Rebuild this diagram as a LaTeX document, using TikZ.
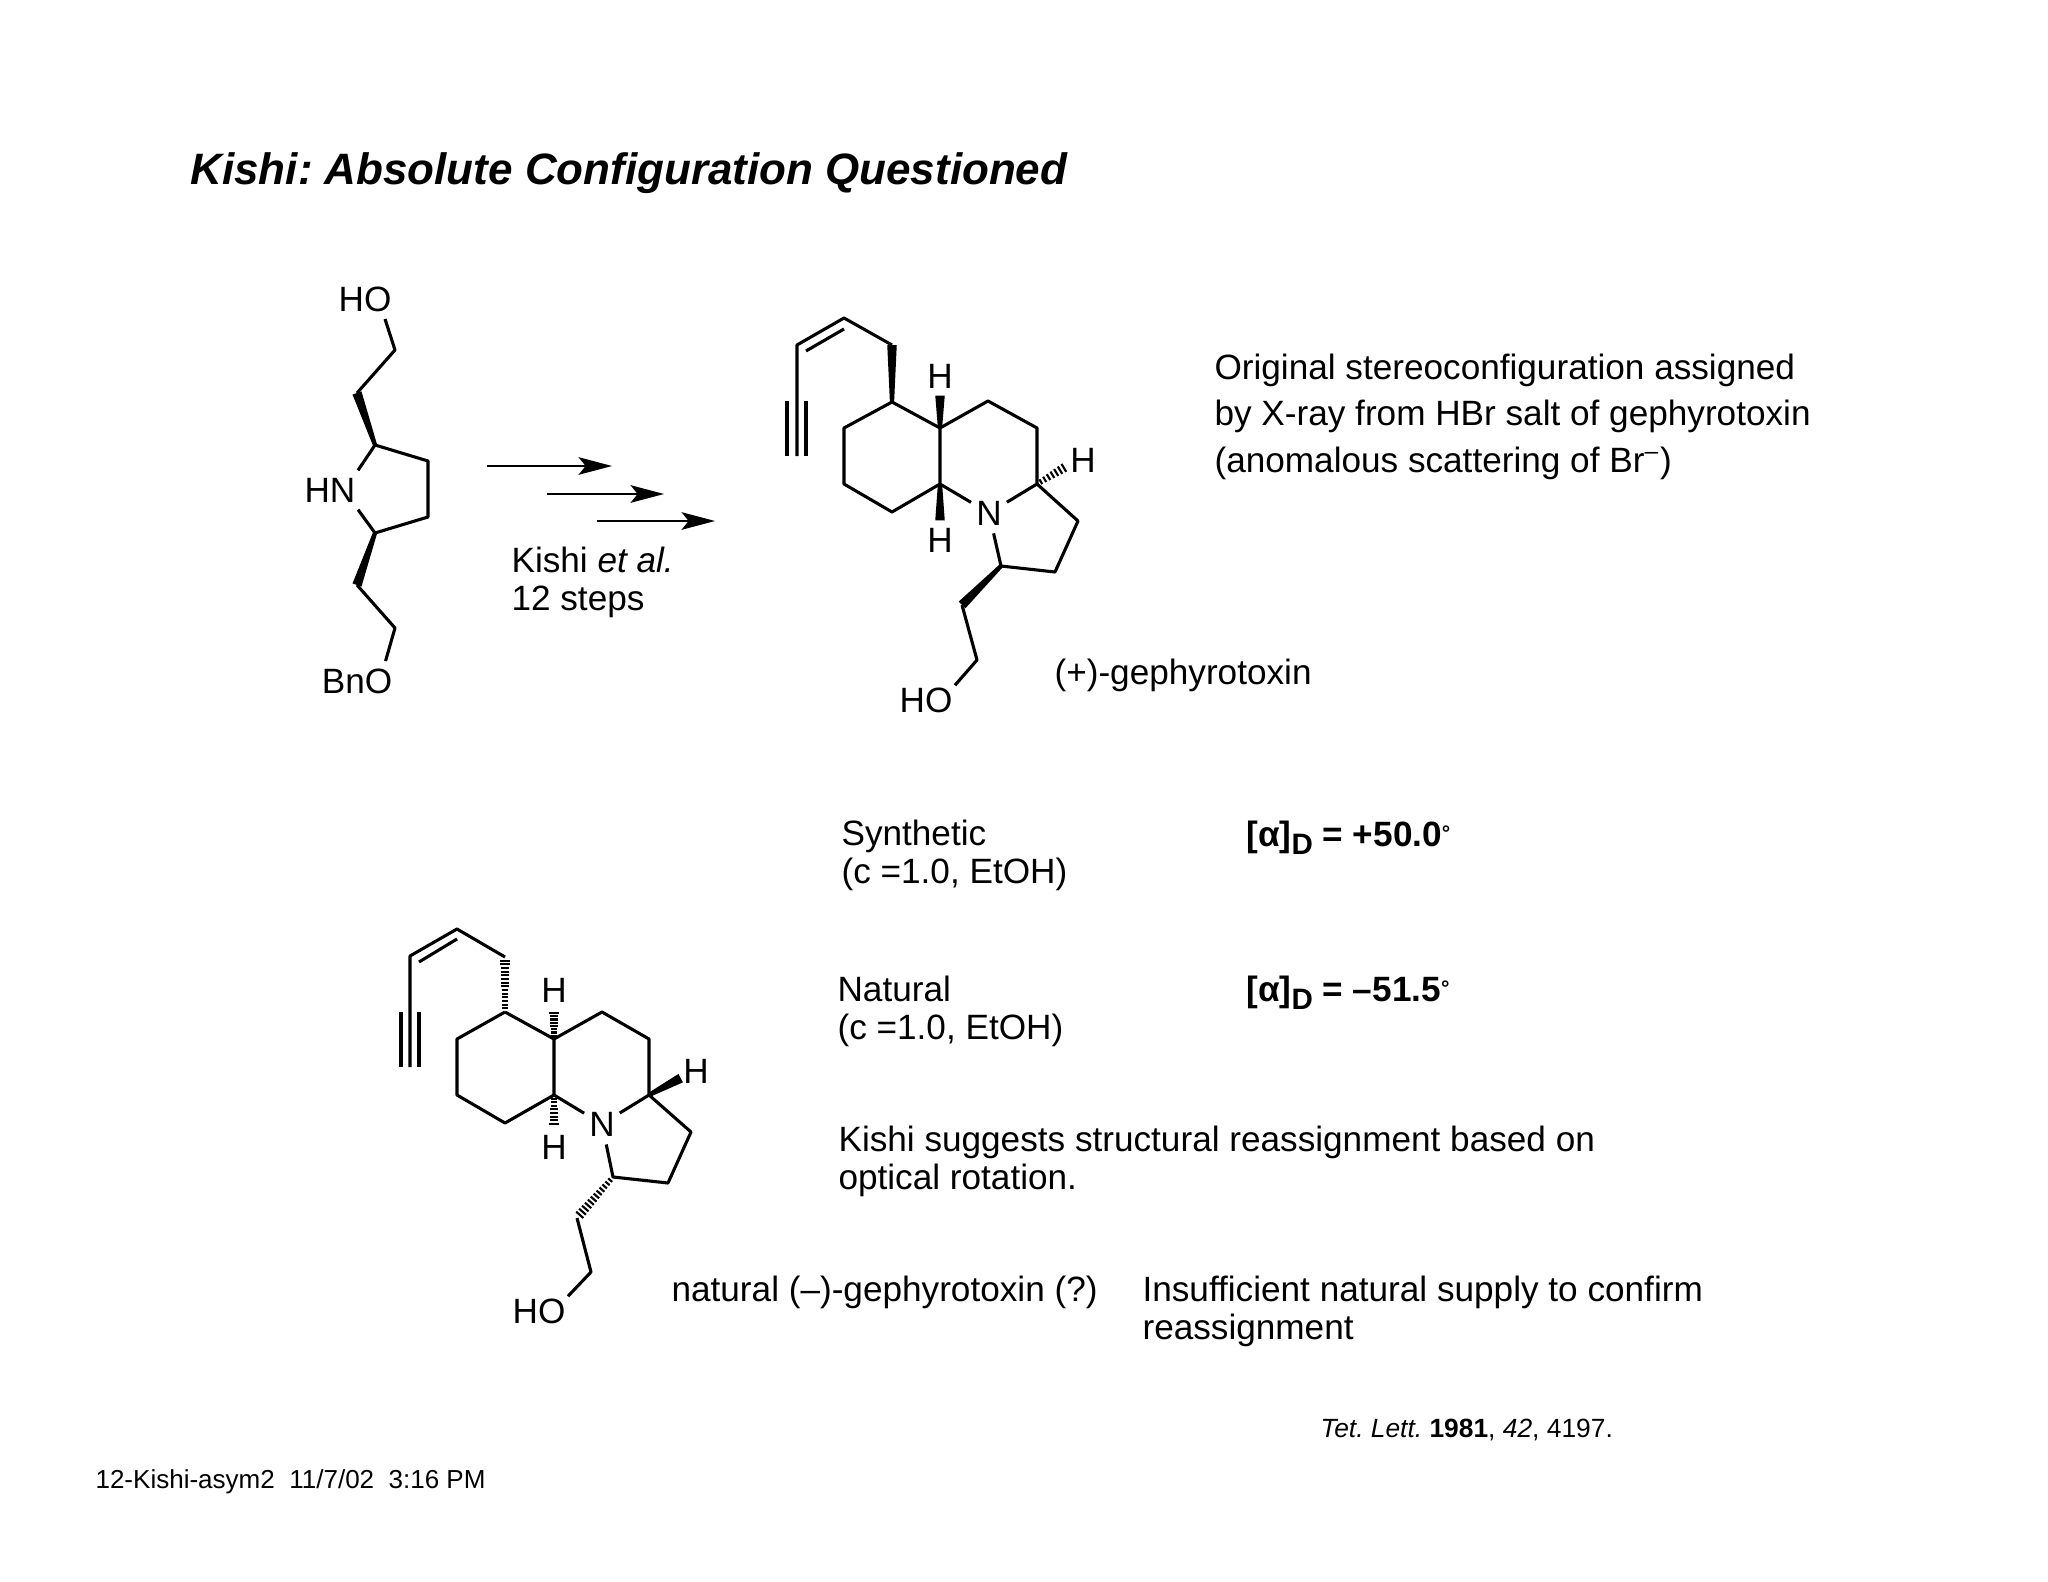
\documentclass[tikz,border=0pt]{standalone}
\usepackage{fontspec}
\setmainfont{Liberation Sans}
\usetikzlibrary{calc,arrows.meta}
\frenchspacing
\newcommand{\wedgebond}[2]{\fill ($(#1)!0.6pt!90:(#2)$) -- ($(#2)!1.35pt!-90:(#1)$) -- ($(#2)!1.35pt!90:(#1)$) -- ($(#1)!0.6pt!-90:(#2)$) -- cycle;}
\newcommand{\hashbond}[3]{\foreach \k in {1,...,#1}{
    \pgfmathsetmacro{\t}{\k/(#1+1)}
    \pgfmathsetmacro{\w}{0.7+0.7*\t}
    \draw[line width=0.6pt] ($($(#2)!\t!(#3)$)!\w pt!90:(#3)$) -- ($($(#2)!\t!(#3)$)!\w pt!-90:(#3)$);
}}
\begin{document}
\begin{tikzpicture}[x=0.01cm, y=-0.01cm, line width=0.88pt, line join=round,
    atom/.style = {inner xsep=0.3pt, inner ysep=1.7pt, font=\fontsize{10}{10}\selectfont},
    ringn/.style = {circle, inner sep=0pt, minimum size=11pt, font=\fontsize{10}{10}\selectfont},
    txt/.style = {anchor=base west, align=left, inner sep=0pt, font=\fontsize{10}{10.7}\selectfont},
    wide/.style = {txt, font=\fontsize{10}{13.1}\selectfont},
    small/.style = {anchor=base west, inner sep=0pt},
    rotation/.style = {txt, font=\fontsize{10}{10.7}\selectfont\bfseries},
    reaction/.style = {line width=0.65pt, -{Stealth[length=9.5pt, width=5pt, inset=2pt]}}]
    \useasboundingbox (0,0) rectangle (2048,1582);

    % title
    \node[small, font=\fontsize{12.5}{14}\selectfont\bfseries\itshape] (title) at (189,185) {Kishi: Absolute Configuration Questioned};

    % starting pyrrolidine
    \node[atom] (ho1) at (365,299) {HO};
    \node[atom] (hn) at (330,490) {HN};
    \node[atom] (bno) at (357,681) {BnO};
    \coordinate (a1) at (395,350);
    \coordinate (a2) at (357,393);
    \coordinate (a3) at (375,445);
    \coordinate (a4) at (428,461);
    \coordinate (a5) at (428,517);
    \coordinate (a6) at (375,533);
    \coordinate (a7) at (357,585);
    \coordinate (a8) at (395,628);
    \draw (ho1.-45) -- (a1) -- (a2);
    \wedgebond{a3}{a2}
    \draw (hn.north east) -- (a3) -- (a4) -- (a5) -- (a6) -- (hn.south east);
    \wedgebond{a6}{a7}
    \draw (a7) -- (a8) -- (bno.35);

    % arrows
    \coordinate (p1) at (487,466);
    \coordinate (p2) at (612,466);
    \coordinate (p3) at (547,494);
    \coordinate (p4) at (664,494);
    \coordinate (p5) at (597,521);
    \coordinate (p6) at (715,521);
    \draw[reaction] (p1) -- (p2);
    \draw[reaction] (p3) -- (p4);
    \draw[reaction] (p5) -- (p6);
    \node[txt] (steps) at (510,610) {Kishi \textit{et al.}\\12 steps};

    % (+)-gephyrotoxin
    \coordinate (b1) at (892,402);
    \coordinate (b2) at (940,428);
    \coordinate (b3) at (940,484);
    \coordinate (b4) at (892,512);
    \coordinate (b5) at (844,484);
    \coordinate (b6) at (844,428);
    \coordinate (b7) at (988,401);
    \coordinate (b8) at (1037,428);
    \coordinate (b9) at (1037,484);
    \coordinate (b10) at (1078,521);
    \coordinate (b11) at (1055,572);
    \coordinate (b12) at (1001,566);
    \node[ringn] (bn) at (989,513) {N};
    \node[atom] (bh1) [above of=b2, node distance=14.8pt] {H};
    \node[atom] (bh2) [below of=b3, node distance=15.9pt] {H};
    \node[atom] (bh3) at (1083,460) {H};
    \node[atom] (ho2) at (926,700) {HO};
    \coordinate (b13) at (962,605);
    \coordinate (b14) at (977,660);
    \coordinate (b15) at (892,345);
    \coordinate (b16) at (844,318);
    \coordinate (b17) at (797,345);
    \coordinate (b18) at (844,329);
    \coordinate (b19) at (806,351);
    \coordinate (b20) at (797,456);
    \coordinate (b21) at (787,401);
    \coordinate (b22) at (787,456);
    \coordinate (b23) at (806,401);
    \coordinate (b24) at (806,456);
    \draw (b1) -- (b2) -- (b3) -- (b4) -- (b5) -- (b6) -- (b1);
    \draw (b2) -- (b7) -- (b8) -- (b9) -- (bn) -- (b3);
    \draw (b9) -- (b10) -- (b11) -- (b12) -- (bn);
    \draw (b15) -- (b16) -- (b17) -- (b20);
    \draw (b18) -- (b19);
    \draw (b21) -- (b22);
    \draw (b23) -- (b24);
    \draw (b13) -- (b14) -- (ho2.27);
    \wedgebond{b1}{b15}
    \wedgebond{b2}{bh1.south}
    \wedgebond{b3}{bh2.north}
    \wedgebond{b12}{b13}
    \hashbond{7}{b9}{bh3.200}
    \node[txt] (plus) at (1053,684) {(+)-gephyrotoxin};
    \node[wide] (orig) at (1213,472) {Original stereoconfiguration assigned\\by X-ray from HBr salt of gephyrotoxin\\(anomalous scattering of Br\textsuperscript{–})};

    % rotations
    \node[txt] (syn) at (840,883) {Synthetic\\(c =1.0, EtOH)};
    \node[txt] (nat) at (836,1039) {Natural\\(c =1.0, EtOH)};
    \node[rotation] (rot1) at (1245,846) {[α]\raisebox{-2.3pt}{\fontsize{8.4}{9}\selectfont D} = +50.0\raisebox{1.5pt}{\fontsize{6}{7}\selectfont °}};
    \node[rotation] (rot2) at (1245,1001) {[α]\raisebox{-2.3pt}{\fontsize{8.4}{9}\selectfont D} = –51.5\raisebox{1.5pt}{\fontsize{6}{7}\selectfont °}};

    % natural (-)-gephyrotoxin
    \coordinate (c1) at (505,1012);
    \coordinate (c2) at (554,1039);
    \coordinate (c3) at (554,1095);
    \coordinate (c4) at (505,1123);
    \coordinate (c5) at (457,1095);
    \coordinate (c6) at (457,1039);
    \coordinate (c7) at (602,1012);
    \coordinate (c8) at (649,1039);
    \coordinate (c9) at (649,1095);
    \coordinate (c10) at (691,1132);
    \coordinate (c11) at (668,1183);
    \coordinate (c12) at (613,1177);
    \node[ringn] (cn) at (602,1124) {N};
    \node[atom] (ch1) [above of=c2, node distance=13.9pt] {H};
    \node[atom] (ch2) [below of=c3, node distance=14.8pt] {H};
    \node[atom] (ch3) at (696,1071) {H};
    \node[atom] (ho3) at (539,1311) {HO};
    \coordinate (c13) at (577,1218);
    \coordinate (c14) at (591,1272);
    \coordinate (c15) at (505,957);
    \coordinate (c16) at (457,929);
    \coordinate (c17) at (410,956);
    \coordinate (c18) at (457,939);
    \coordinate (c19) at (419,962);
    \coordinate (c20) at (410,1067);
    \coordinate (c21) at (401,1012);
    \coordinate (c22) at (401,1067);
    \coordinate (c23) at (419,1012);
    \coordinate (c24) at (419,1067);
    \draw (c1) -- (c2) -- (c3) -- (c4) -- (c5) -- (c6) -- (c1);
    \draw (c2) -- (c7) -- (c8) -- (c9) -- (cn) -- (c3);
    \draw (c9) -- (c10) -- (c11) -- (c12) -- (cn);
    \draw (c15) -- (c16) -- (c17) -- (c20);
    \draw (c18) -- (c19);
    \draw (c21) -- (c22);
    \draw (c23) -- (c24);
    \draw (c13) -- (c14) -- (ho3.27);
    \wedgebond{c9}{ch3.205}
    \hashbond{14}{c1}{c15}
    \hashbond{8}{c2}{ch1.south}
    \hashbond{8}{c3}{ch2.north}
    \hashbond{12}{c12}{c13}
    \node[txt] (natural) at (670,1301) {natural (–)-gephyrotoxin (?)};
    \node[txt] (kishi) at (837,1189) {Kishi suggests structural reassignment based on\\optical rotation.};
    \node[txt] (supply) at (1141,1339) {Insufficient natural supply to confirm\\reassignment};

    % footers
    \node[small, font=\fontsize{7.5}{8}\selectfont] (ref) at (1319,1437) {\textit{Tet. Lett.} \textbf{1981}, \textit{42}, 4197.};
    \node[small, font=\fontsize{7.4}{8}\selectfont] (stamp) at (94,1488) {12-Kishi-asym2\ \ 11/7/02\ \ 3:16 PM};
\end{tikzpicture}
\end{document}
